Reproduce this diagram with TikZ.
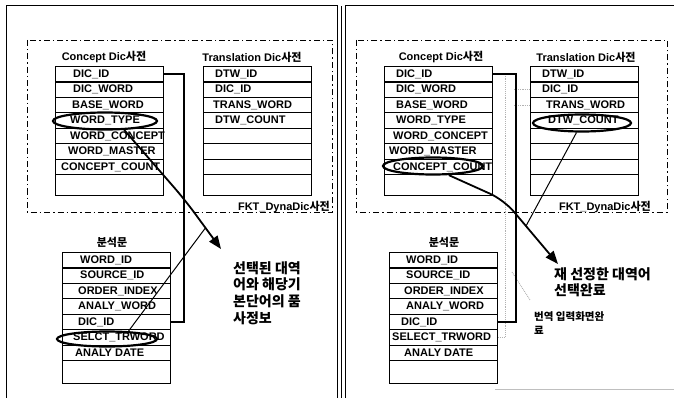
\documentclass[tikz,border=0pt]{standalone}
\usepackage{fontspec}
\setmainfont{Liberation Sans}
\newfontfamily\kr{Noto Sans CJK KR}
\usetikzlibrary{arrows.meta,shapes.geometric}
\newcommand\dbtab[5]{% name, x, y, last-row height, list indent/text
  \foreach \ind/\txt [count=\i] in {#5} {
    \pgfmathsetmacro\yy{#3+(\i-1)*15.43}
    \node[rowbox, minimum height=15.43pt] (#1\i) at (#2,\yy) {};
    \node[rowtext] (#1t\i) at ([xshift=\ind pt]#1\i.west) {\txt};
  }
  \node[rowbox, minimum height=#4pt] (#1last) at (#2,#3+7*15.43) {};
}
\begin{document}
\begin{tikzpicture}[x=1pt,y=-1pt,
  rowbox/.style={draw, line width=1.2pt, minimum width=108pt, inner sep=0pt, anchor=north west},
  rowtext/.style={anchor=west, inner sep=0pt, font=\fontsize{11}{12}\selectfont\bfseries},
  title/.style={font=\fontsize{11}{12}\selectfont\bfseries, inner sep=0pt},
  kor/.style={font=\kr\bfseries\fontsize{14}{16.7}\selectfont, align=left, anchor=north west, inner sep=0pt},
  korsm/.style={font=\kr\bfseries\fontsize{10.5}{14}\selectfont, align=left, anchor=north west, inner sep=0pt},
  dashbox/.style={line width=0.7pt, dash pattern=on 6pt off 3pt on 1.5pt off 3pt},
  frame/.style={line width=1pt},
  link/.style={line width=1.8pt},
  thinlink/.style={line width=1pt},
  greydot/.style={gray!60, line width=0.9pt, densely dotted},
  oval/.style={draw, ellipse, line width=2.2pt, inner sep=0pt},
  tip/.style={-{Triangle[length=13pt,width=10pt]}}
]
\useasboundingbox (0,0) rectangle (674,398);

% panel frames
\draw[frame] (6,398) -- (6,6) -- (337,6) -- (337,398);
\draw[frame] (341,398) -- (341,6);
\draw[frame] (345,398) -- (345,6) -- (674,6);
\draw[gray!50, line width=1pt] (495,389) -- (674,389);

% ================= LEFT PANEL =================
\draw[dashbox] (27,40) rectangle (332,212);
\node[title, anchor=east] (fL) at (330,207) {FKT\_DynaDic{\kr\bfseries 사전}};

\node[title] (tcL) at (104,57) {Concept Dic{\kr\bfseries 사전}};
\node[title] (ttL) at (252,57) {Translation Dic{\kr\bfseries 사전}};
\node[title] (tbL) at (112,242) {\kr\bfseries 분석문};

\dbtab{cL}{55}{66}{21}{18/DIC\_ID, 18/DIC\_WORD, 17/BASE\_WORD, 15/WORD\_TYPE, 15/WORD\_CONCEPT, 13/WORD\_MASTER, 6/CONCEPT\_COUNT}
\dbtab{tL}{203}{66}{21}{12/DTW\_ID, 12/DIC\_ID, 10/TRANS\_WORD, 12/DTW\_COUNT, 0/{}, 0/{}, 0/{}}
\dbtab{bL}{62}{252}{22.5}{18/WORD\_ID, 18/SOURCE\_ID, 16/ORDER\_INDEX, 16/ANALY\_WORD, 16/DIC\_ID, 11/SELCT\_TRWORD, 13/ANALY DATE}

\draw[link] (cL1.east) -- ++(20,0) |- (bL5.east);

\node[oval, minimum width=104pt, minimum height=17pt] (eL1) at (105,121) {};
\node[oval, minimum width=100pt, minimum height=15pt] (eL2) at (107,339) {};

\coordinate (bendL) at (185,200);
\coordinate (joinL) at (205.4,228);
\coordinate (tipL) at (221,249);
\draw[link, tip, rounded corners=15pt] (eL1.-25) -- (bendL) -- (tipL);
\draw[thinlink] (eL2.20) -- (joinL);

\node[kor] (noteL) at (233,261) {선택된 대역\\어와 해당기\\본단어의 품\\사정보};

% ================= RIGHT PANEL =================
\draw[dashbox] (356,40) rectangle (667,212);
\node[title, anchor=east] (fR) at (651,207) {FKT\_DynaDic{\kr\bfseries 사전}};

\node[title] (tcR) at (441,57) {Concept Dic{\kr\bfseries 사전}};
\node[title] (ttR) at (586,57) {Translation Dic{\kr\bfseries 사전}};
\node[title] (tbR) at (444,242) {\kr\bfseries 분석문};

\dbtab{cR}{384}{66}{21}{12/DIC\_ID, 12/DIC\_WORD, 12/BASE\_WORD, 12/WORD\_TYPE, 9/WORD\_CONCEPT, 5/WORD\_MASTER, 9/CONCEPT\_COUNT}
\dbtab{tR}{530}{66}{21}{12/DTW\_ID, 12/DIC\_ID, 16/TRANS\_WORD, 18/DTW\_COUNT, 0/{}, 0/{}, 0/{}}
\dbtab{bR}{389}{252}{22.5}{17/WORD\_ID, 17/SOURCE\_ID, 15/ORDER\_INDEX, 17/ANALY\_WORD, 12/DIC\_ID, 3/SELECT\_TRWORD, 15/ANALY DATE}

\draw[greydot] (cR1.east) -- ++(12,0) |- (bR6.east);
\draw[greydot] (tR2.west) -- ++(-16,0);
\draw[greydot] (tR3.west) -- ++(-16,0);
\coordinate (gA) at (512,272);
\coordinate (gB) at (530,300);
\draw[greydot] (gA) -- (gB);

\draw[link] (cR1.east) -- ++(23,0) |- (bR5.east);

\node[oval, minimum width=100pt, minimum height=17pt] (eR1) at (433,166) {};
\node[oval, minimum width=98pt, minimum height=17pt] (eR2) at (582,123) {};

\coordinate (bendR) at (504,200);
\coordinate (joinR) at (526,226);
\coordinate (tipR) at (558,264);
\draw[link, tip, rounded corners=15pt] (eR1.-30) -- (bendR) -- (tipR);
\draw[thinlink] (eR2.-120) -- (joinR);

\node[kor] (noteR) at (554,267) {재 선정한 대역어\\선택완료};
\node[korsm] (noteR2) at (534,311) {번역 입력화면완\\료};
\end{tikzpicture}
\end{document}
